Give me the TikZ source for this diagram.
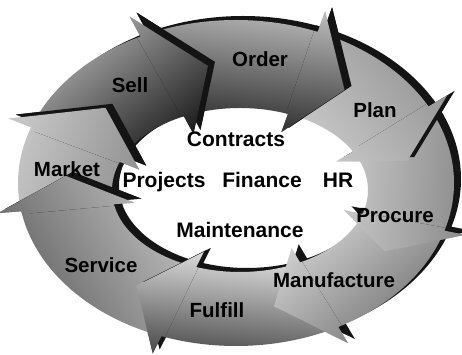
\documentclass[tikz,border=0pt]{standalone}
\usepackage{fontspec}
\setmainfont{Liberation Sans}
\newcommand{\arrpath}[3]{plot[domain=#1:#2,samples=40] ({ex(\x,1)},{ey(\x,1)}) -- ({ex(#2,1.25)},{ey(#2,1.25)}) -- ({ex(#3,0.5)},{ey(#3,0.5)}) -- ({ex(#2,-0.22)},{ey(#2,-0.22)}) -- plot[domain=#2:#1,samples=40] ({ex(\x,0)},{ey(\x,0)}) -- cycle}
\newcommand{\wedgepath}[2]{({ex(#1+1,-0.6)},{ey(#1+1,-0.6)}) -- ({ex(#1+1,2.2)},{ey(#1+1,2.2)}) -- ({ex((#1+#2)/2-4,2.2)},{ey((#1+#2)/2-4,2.2)}) -- ({ex(#2-9,2.2)},{ey(#2-9,2.2)}) -- ({ex(#2-9,-0.6)},{ey(#2-9,-0.6)}) -- cycle}
\tikzset{
  darkside/.style={fill=black!92},
  outlbl/.style={font=\bfseries\fontsize{20.5}{23}\selectfont, text=black, inner sep=0pt, anchor=base},
  inlbl/.style={font=\bfseries\fontsize{21}{24}\selectfont, text=black, inner sep=0pt, anchor=base},
}
\begin{document}
\begin{tikzpicture}[x=1pt,y=1pt,
  declare function={ex(\t,\s)=240-4*\s+(128+90*\s)*cos(\t); ey(\t,\s)=165+7*\s+(82+81*\s)*sin(\t);}]
\fill[white] (0,0) rectangle (462,355);
\useasboundingbox (0,0) rectangle (462,355);
% arrows: T B P tailcolor headcolor angle
\def\arrows{187/160/140/black!22/black!42/73.5,
 157/116/100/black!30/black!88/38.5,
 113/68/52/black!28/black!85/-7.5,
 65/28/12/black!42/black!22/-51.5,
 25/-17/-32/black!45/black!22/-93.5,
 -20/-62/-78/black!55/black!18/-139,
 -65/-110/-126/black!70/black!10/-185.5,
 -113/-170/-185/black!62/black!26/121}
% dark sides
\foreach \T/\B/\P/\ca/\cb/\ang in \arrows {
  \fill[darkside, shift={(7,4)}] \arrpath{\T}{\B}{\P};
}
% faces
\foreach \T/\B/\P/\ca/\cb/\ang in \arrows {
  \shade[left color=\ca, right color=\cb, shading angle=\ang] \arrpath{\T}{\B}{\P};
}
% heads on top
\foreach \T/\B/\P/\ca/\cb/\ang in \arrows {
  \begin{scope}
    \clip \wedgepath{\B}{\P};
    \fill[darkside, shift={(7,4)}] \arrpath{\T}{\B}{\P};
    \shade[left color=\ca, right color=\cb, shading angle=\ang] \arrpath{\T}{\B}{\P};
  \end{scope}
}
% outer labels
\node[outlbl] (sell) at (130,262) {Sell};
\node[outlbl] (order) at (260,288) {Order};
\node[outlbl] (plan) at (375,237) {Plan};
\node[outlbl] (procure) at (395,132) {Procure};
\node[outlbl] (manufacture) at (334,67) {Manufacture};
\node[outlbl] (fulfill) at (217,37) {Fulfill};
\node[outlbl] (service) at (101,82) {Service};
\node[outlbl] (market) at (67,178) {Market};
% inner labels
\node[inlbl] (contracts) at (236,208) {Contracts};
\node[inlbl] (projects) at (164,167) {Projects};
\node[inlbl] (finance) at (262,167) {Finance};
\node[inlbl] (hr) at (338,167) {HR};
\node[inlbl] (maintenance) at (240,117) {Maintenance};
\end{tikzpicture}
\end{document}
